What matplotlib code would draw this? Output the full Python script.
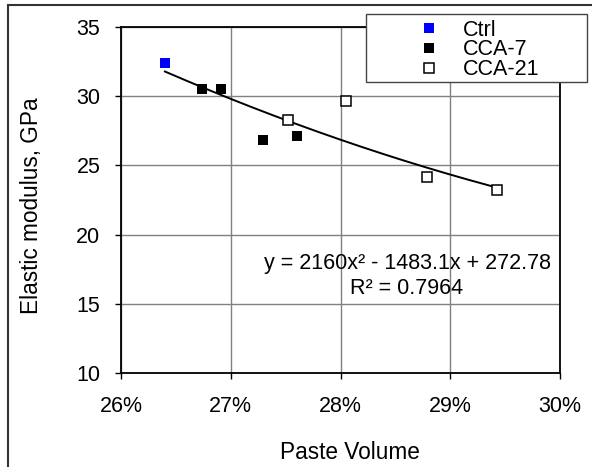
import numpy as np
import matplotlib
matplotlib.use("Agg")
import matplotlib.pyplot as plt
from matplotlib.ticker import PercentFormatter, MultipleLocator
from matplotlib.patches import Rectangle

plt.rcParams['font.family'] = ['Liberation Sans', 'DejaVu Sans']

# paste volume (fraction) and elastic modulus (GPa)
ctrl_x = [0.2640]
ctrl_y = [32.40]
cca7_x = [0.2674, 0.2691, 0.2729, 0.2760]
cca7_y = [30.52, 30.52, 26.84, 27.10]
cca21_x = [0.2752, 0.2805, 0.2879, 0.2943]
cca21_y = [28.28, 29.63, 24.14, 23.20]

# polynomial trendline as printed on the chart
trend_coef = [2160, -1483.1, 272.78]
trend_r2 = 0.7964

W, H = 592, 467
fig = plt.figure(figsize=(W / 100, H / 100), dpi=100)
# chart area border (only top/left visible in the crop)
fig.patches.append(Rectangle((8 / W, -0.1), 1.2, 1 - 5 / H + 0.1, transform=fig.transFigure,
                             fill=False, edgecolor='#333333', linewidth=1.5))

left, right, top, bottom = 121, 560, 27, 373
ax = fig.add_axes([left / W, 1 - bottom / H, (right - left) / W, (bottom - top) / H])

fs = 15.5
all_x = ctrl_x + cca7_x + cca21_x
xt = np.linspace(min(all_x), max(all_x), 200)
ax.plot(xt, np.polyval(trend_coef, xt), color='black', linewidth=1.4, zorder=3)

ax.plot(ctrl_x, ctrl_y, 's', color='#0000FF', markersize=7.8, markeredgewidth=0, label='Ctrl', zorder=4)
ax.plot(cca7_x, cca7_y, 's', color='black', markersize=7.8, markeredgewidth=0, label='CCA-7', zorder=4)
ax.plot(cca21_x, cca21_y, 's', markerfacecolor='white', markeredgecolor='black', markersize=6.6,
        markeredgewidth=1.1, label='CCA-21', zorder=4)

ax.set_xlim(0.26, 0.30)
ax.set_ylim(10, 35)
ax.xaxis.set_major_locator(MultipleLocator(0.01))
ax.xaxis.set_major_formatter(PercentFormatter(xmax=1, decimals=0))
ax.yaxis.set_major_locator(MultipleLocator(5))
ax.grid(True, color='#808080', linewidth=1.0)
ax.set_axisbelow(True)
for s in ax.spines.values():
    s.set_color('black')
    s.set_linewidth(1.3)
ax.tick_params(axis='both', direction='out', length=4.3, width=1.0, labelsize=fs)
ax.tick_params(axis='x', pad=12.5)
ax.tick_params(axis='y', pad=10.5)

ax.set_xlabel('Paste Volume', fontsize=16.3)
ax.set_ylabel('Elastic modulus, GPa', fontsize=16.3)
ax.xaxis.set_label_coords((350 - left) / (right - left), (bottom - 441) / (bottom - top))
ax.yaxis.set_label_coords((43 - left) / (right - left), (bottom - 206) / (bottom - top))

eq = 'y = %gx² - %gx + %g\nR² = %g' % (trend_coef[0], -trend_coef[1], trend_coef[2], trend_r2)
fig.text(407 / W, 1 - 276 / H, eq, ha='center', va='center', fontsize=fs, linespacing=1.3,
         multialignment='center')

# legend box
fig.patches.append(Rectangle((366 / W, 1 - 82 / H), (587 - 366) / W, (82 - 14) / H,
                             transform=fig.transFigure, facecolor='white', edgecolor='#444444',
                             linewidth=1.0, zorder=5))
leg = fig.legend(loc='center left', bbox_to_anchor=(418.5 / W, 1 - 50 / H), frameon=False,
                 fontsize=fs, handlelength=1.0, handletextpad=1.07, labelspacing=-0.06,
                 borderpad=0, borderaxespad=0, numpoints=1)
leg.set_zorder(6)

fig.savefig('out.png', dpi=100)
